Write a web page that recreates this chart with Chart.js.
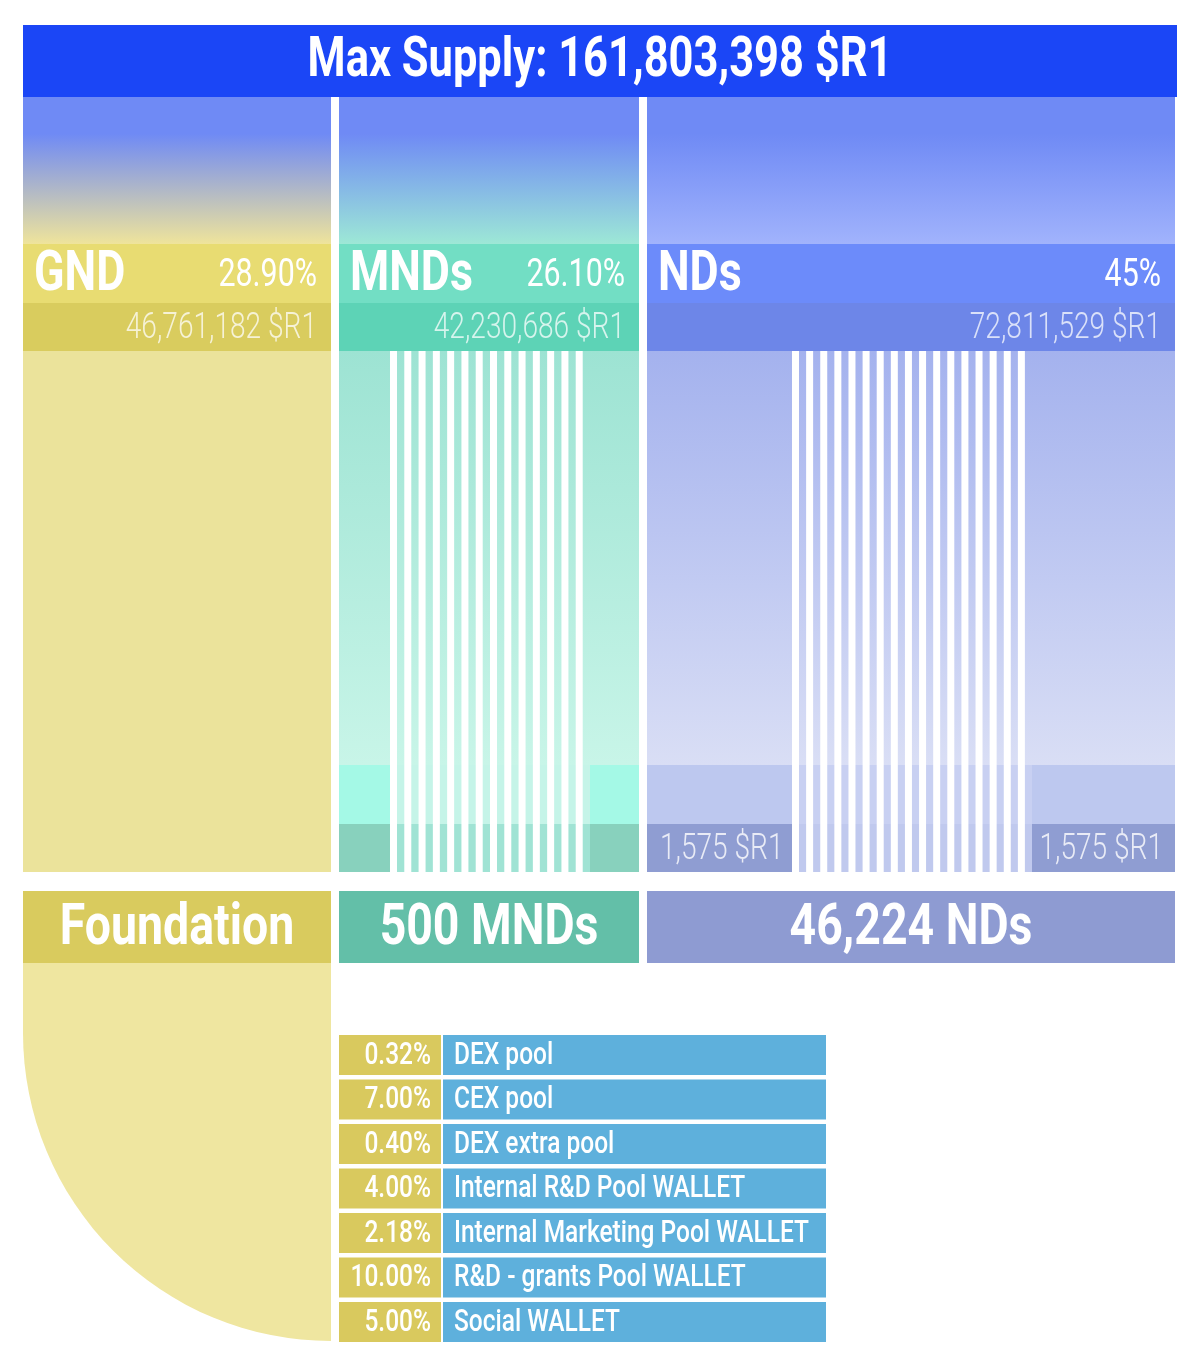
<!DOCTYPE html>
<html><head><meta charset="utf-8">
<script src="https://cdn.jsdelivr.net/npm/chart.js@4"></script>
<style>html,body{margin:0;padding:0;background:#fff}#w{width:1200px;height:1367px}</style>
</head><body><div id="w"><canvas id="c"></canvas></div>
<script>
const title = 'Max Supply: 161,803,398 $R1';
const categories = ['GND','MNDs','NDs'];
const shareLabels = ['28.90%','26.10%','45%'];
const amounts = ['46,761,182 $R1','42,230,686 $R1','72,811,529 $R1'];
const holders = ['Foundation','500 MNDs','46,224 NDs'];
const ndNodeReward = '1,575 $R1';
const poolPercents = ['0.32%','7.00%','0.40%','4.00%','2.18%','10.00%','5.00%'];
const poolNames = ['DEX pool','CEX pool','DEX extra pool','Internal R&D Pool WALLET','Internal Marketing Pool WALLET','R&D - grants Pool WALLET','Social WALLET'];

// layout (canvas units)
const L = {
  cols:[[23,331],[339,639],[647,1175]],
  head:[25,97], grad:[97,244], lab:[244,303], amt:[303,351], body:[351,872],
  b1:[765,824], b2:[824,872], hold:[891,963],
  stripes:[[390,590,14],[792,1032,17]],
  tx:[339,441,826], ty:1035, th:40, tg:4.5
};
const colors = {
  head:'#1b46f6', top:'#6f8af5',
  gradEnd:['#efe49b','#9de8d6','#a1b3fc'],
  lab:['#e8dc72','#72dec4','#6c8bfa'],
  amt:['#d9cc5e','#5dd3b6','#6d86e8'],
  hold:['#d9cb5e','#63bfa8','#8e9bd2'],
  bodyTop:['#ebe39b','#9de3d3','#a4b2ee'],
  bodyBot:['#ebe39b','#c8f5e8','#d9def5'],
  b1:['#ebe39b','#a4f9e6','#bdc8ef'],
  b2:['#ebe39b','#88d1bd','#8f9dd2'],
  stripeFill:[['#c5f4e8','#a0e3d4'],['#c8d0f2','#c0c9ee']],
  low:'#efe6a0', pct:'#d9c95e', name:'#5eb0dc'
};
const F = 'Roboto, "Liberation Sans", sans-serif';

const drawer = {
  id:'drawer',
  beforeDatasetsDraw(chart){
    const ctx=chart.ctx, X=v=>chart.scales.x.getPixelForValue(v), Y=v=>chart.scales.y.getPixelForValue(v);
    const rect=(x0,y0,x1,y1,c)=>{ctx.fillStyle=c;ctx.fillRect(X(x0),Y(y0),X(x1)-X(x0),Y(y1)-Y(y0));};
    const txt=(s,x,y,size,weight,align,col,sx)=>{ctx.save();ctx.font=weight+' '+size+'px '+F;ctx.fillStyle=col||'#fff';ctx.textBaseline='middle';
      ctx.translate(X(x),Y(y));ctx.scale(sx||0.8,1);ctx.textAlign=align;ctx.fillText(s,0,0);ctx.restore();};
    ctx.save();
    rect(23,L.head[0],1177,L.head[1],colors.head);
    txt(title,600,(L.head[0]+L.head[1])/2+1,55,'bold','center','#fff',0.79);
    L.cols.forEach(([a,b],i)=>{
      let g=ctx.createLinearGradient(0,Y(L.grad[0]),0,Y(L.grad[1]));
      g.addColorStop(0,colors.top);g.addColorStop(0.25,colors.top);g.addColorStop(1,colors.gradEnd[i]);
      ctx.fillStyle=g;ctx.fillRect(X(a),Y(L.grad[0]),X(b)-X(a),Y(L.grad[1])-Y(L.grad[0]));
      rect(a,L.lab[0],b,L.lab[1],colors.lab[i]);
      rect(a,L.amt[0],b,L.amt[1],colors.amt[i]);
      g=ctx.createLinearGradient(0,Y(L.body[0]),0,Y(L.b1[0]));
      g.addColorStop(0,colors.bodyTop[i]);g.addColorStop(1,colors.bodyBot[i]);
      ctx.fillStyle=g;ctx.fillRect(X(a),Y(L.body[0]),X(b)-X(a),Y(L.b1[0])-Y(L.body[0]));
      rect(a,L.b1[0],b,L.b1[1],colors.b1[i]);
      rect(a,L.b2[0],b,L.b2[1],colors.b2[i]);
      rect(a,L.hold[0],b,L.hold[1],colors.hold[i]);
      txt(categories[i],a+11,L.lab[0]+32,56,'bold','left','#fff',0.8);
      txt(shareLabels[i],b-14,L.lab[0]+32,38,'normal','right','#fff',0.8);
      txt(amounts[i],b-14,(L.amt[0]+L.amt[1])/2+2,36,'300','right','rgba(255,255,255,0.75)',0.78);
      txt(holders[i],(a+b)/2,(L.hold[0]+L.hold[1])/2+2,58,'bold','center','#fff',0.8);
    });
    // stripes
    L.stripes.forEach(([a,b,n],k)=>{
      rect(a,L.body[0],b,L.body[1],'#ffffff');
      const step=(b-a)/n;
      for(let j=0;j<n;j++){
        const x0=a+j*step+7, x1=a+(j+1)*step;
        let g=ctx.createLinearGradient(0,Y(L.body[0]),0,Y(L.b1[0]));
        g.addColorStop(0,colors.bodyTop[k+1]);g.addColorStop(1,colors.bodyBot[k+1]);
        ctx.fillStyle=g;ctx.fillRect(X(x0),Y(L.body[0]),X(x1)-X(x0),Y(L.b1[0])-Y(L.body[0]));
        rect(x0,L.b1[0],x1,L.b2[0],colors.stripeFill[k][0]);
        rect(x0,L.b2[0],x1,L.body[1],colors.stripeFill[k][1]);
      }
    });
    txt(ndNodeReward,660,(L.b2[0]+L.b2[1])/2+2,36,'300','left','rgba(255,255,255,0.8)',0.78);
    txt(ndNodeReward,1163,(L.b2[0]+L.b2[1])/2+2,36,'300','right','rgba(255,255,255,0.8)',0.78);
    // lower foundation curve
    const [a,b]=L.cols[0]; const r=b-a, bottom=1341;
    ctx.fillStyle=colors.low;ctx.beginPath();
    ctx.moveTo(X(a),Y(L.hold[1]));ctx.lineTo(X(b),Y(L.hold[1]));ctx.lineTo(X(b),Y(bottom));
    ctx.arc(X(b),Y(bottom-r),Y(bottom)-Y(bottom-r),Math.PI/2,Math.PI);ctx.closePath();ctx.fill();
    // table
    poolPercents.forEach((p,i)=>{
      const y0=L.ty+i*(L.th+L.tg), y1=y0+L.th;
      rect(L.tx[0],y0,L.tx[1],y1,colors.pct);
      rect(L.tx[1]+2,y0,L.tx[2],y1,colors.name);
      txt(p,L.tx[1]-10,(y0+y1)/2+1,31,'500','right','#fff',0.79);
      txt(poolNames[i],L.tx[1]+13,(y0+y1)/2+1,31,'500','left','#fff',0.79);
    });
    ctx.restore();
  }
};
new Chart(document.getElementById('c'),{
  type:'scatter',
  data:{datasets:[{data:[],pointRadius:0}]},
  options:{responsive:true,maintainAspectRatio:false,animation:false,
    layout:{padding:0},
    plugins:{legend:{display:false},tooltip:{enabled:false}},
    scales:{x:{type:'linear',min:0,max:1200,display:false},y:{type:'linear',min:0,max:1367,reverse:true,display:false}}},
  plugins:[drawer]
});
</script></body></html>
